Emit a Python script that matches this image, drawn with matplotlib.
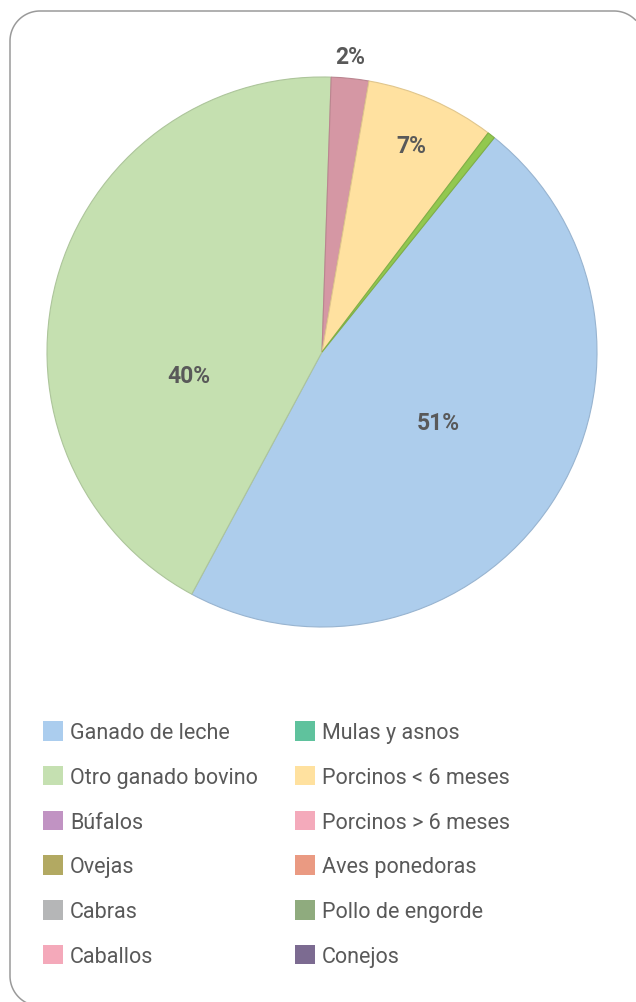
import matplotlib
matplotlib.use("Agg")
import matplotlib.pyplot as plt
from matplotlib.patches import Patch
from matplotlib.lines import Line2D
import matplotlib.colors as mcolors
import numpy as np

# ---- data ----
categories = ["Ganado de leche", "Otro ganado bovino", "Búfalos", "Ovejas", "Cabras",
              "Caballos", "Mulas y asnos", "Porcinos < 6 meses", "Porcinos > 6 meses",
              "Aves ponedoras", "Pollo de engorde", "Conejos"]
values = [47.1, 42.7, 0, 0, 0, 2.2, 0, 7.6, 0, 0, 0.45, 0]
pct_labels = ["51%", "40%", "", "", "", "2%", "", "7%", "", "", "", ""]

legend_colors = ["#abcdee", "#c5e0b1", "#c193c3", "#b2a962", "#b5b6b7", "#f4a9ba",
                 "#5fc29d", "#ffe19f", "#f4aabb", "#ea9a82", "#8fab7e", "#7c6b91"]
slice_colors = ["#adcdec", "#c5e0b0", "#c193c3", "#b2a962", "#b5b6b7", "#d597a4",
                "#5fc29d", "#ffe1a0", "#f4aabb", "#ea9a82", "#92c84f", "#7c6b91"]

# label placement (angle in degrees, radius fraction)
label_pos = {0: (-31, 0.495), 1: (190, 0.49), 5: (84.6, 1.08), 7: (66.6, 0.82)}

W, H = 636, 1003
fig = plt.figure(figsize=(W / 100, H / 100), dpi=100)

# ---- rounded frame (only the visible part), in top-down pixel coords ----
R = 30
def arc(cx, cy, a0, a1, n=40):
    t = np.deg2rad(np.linspace(a0, a1, n))
    return cx + R * np.cos(t), cy - R * np.sin(t)
# top-right arc (center 614,42) from where it leaves the image to the top
x1, y1 = arc(614, 42, 42.8, 90)
# top line to top-left arc (center 40,42)
x2, y2 = arc(40, 42, 90, 180)
# left side down to bottom-left arc (center 40,977)
x3, y3 = arc(40, 977, 180, 248)
fx = np.concatenate([x1, x2, x3])
fy = np.concatenate([y1, y2, y3])
fig.add_artist(Line2D(fx / W, 1 - fy / H, transform=fig.transFigure,
                      color="#9a9a9a", linewidth=1.1, solid_capstyle="butt"))

# pie
cx, cy, r = 322, 353, 275
ax = fig.add_axes([(cx - r) / W, (H - cy - r) / H, 2 * r / W, 2 * r / H])
wedges, _ = ax.pie(values, colors=slice_colors, startangle=51.2, counterclock=False,
                   radius=1.0)
for w, v, c in zip(wedges, values, slice_colors):
    rgb = mcolors.to_rgb(c)
    w.set_edgecolor(tuple(x * 0.88 for x in rgb))
    w.set_linewidth(0.8 if v > 0 else 0)
ax.set_xlim(-1, 1)
ax.set_ylim(-1, 1)
ax.set_aspect("equal")
ax.axis("off")

for i, (ang, rf) in label_pos.items():
    a = np.deg2rad(ang)
    ax.text(rf * np.cos(a), rf * np.sin(a), pct_labels[i], ha="center", va="center",
            fontsize=16.5, fontweight="bold", color="#595959", family="Roboto")

# legends (two columns)
handles = [Patch(facecolor=c, edgecolor="none") for c in legend_colors]
fs = 15.5
fpx = fs * 100 / 72
common = dict(frameon=False, loc="upper left", borderpad=0, borderaxespad=0,
              handlelength=20 / fpx, handleheight=22 / fpx, handletextpad=7 / fpx,
              labelspacing=1.05, prop={"family": "Roboto", "size": fs},
              labelcolor="#595959")
leg1 = fig.legend(handles[:6], categories[:6],
                  bbox_to_anchor=(43 / W, (H - 722) / H), **common)
leg2 = fig.legend(handles[6:], categories[6:],
                  bbox_to_anchor=(295 / W, (H - 722) / H), **common)

fig.savefig("out.png", dpi=100)
